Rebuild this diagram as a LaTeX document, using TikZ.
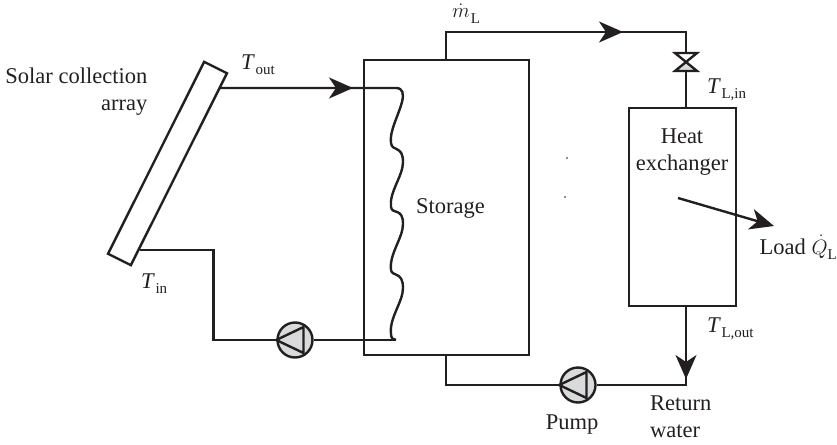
\documentclass[tikz,border=0pt]{standalone}
\usepackage{fontspec}
\setmainfont{Liberation Serif}
\usepackage{xcolor}
\usetikzlibrary{arrows.meta, positioning, calc}
\definecolor{inkcol}{HTML}{231F20}
\definecolor{pumpgray}{HTML}{D9DADB}
\tikzset{
  pipe/.style={line width=2.4pt, draw=inkcol},
  flowtip/.style={-{Stealth[length=24pt, width=21pt, inset=7pt]}},
  vessel/.style={draw=inkcol, line width=2.4pt, inner sep=0pt},
  pumpnode/.style={circle, draw=inkcol, fill=pumpgray, line width=2.4pt, minimum size=35pt, inner sep=0pt},
  lbl/.style={text=inkcol, font=\fontsize{22.5}{27}\selectfont, inner sep=0pt},
}
\newcommand{\subtxt}[1]{\raisebox{-5.5pt}{\fontsize{15}{15}\selectfont #1}}
\newcommand{\symT}[1]{\textit{T}\kern 0.5pt\subtxt{#1}}
\begin{document}
\begin{tikzpicture}[x=1pt, y=-1pt]
  \useasboundingbox (0,0) rectangle (837,444);
  %--- vessels ---
  \node[vessel, minimum width=165pt, minimum height=295pt] (storage) at (446.5,207.5) {};
  \node[vessel, minimum width=107pt, minimum height=198pt] (exchanger) at (682.5,207) {};
  \node[vessel, minimum width=214.7pt, minimum height=25.5pt, rotate=63.4] (array) at (167.5,163.5) {};
  %--- collector loop ---
  \coordinate (arrayout) at (220,88);
  \coordinate (coiltop) at (396,88);
  \coordinate (coilend) at (396,340);
  \coordinate (arrayin) at (140,250);
  \coordinate (cornerin) at (213.5,250);
  \node[pumpnode] (pumpa) at (295,340) {};
  \draw[pipe] (arrayout) -- (coiltop)
    .. controls (403,88) and (404,94) .. (402,102)
    .. controls (399,114) and (389,132) .. (391,143)
    .. controls (392,152) and (403,145) .. (403,162)
    .. controls (403,176) and (389,192) .. (391,207)
    .. controls (392,215) and (403,207) .. (403,224)
    .. controls (403,238) and (389,254) .. (391,270)
    .. controls (392,277) and (403,271) .. (403,288)
    .. controls (403,302) and (389,318) .. (391,334)
    .. controls (391,338) and (393,340) .. (coilend);
  \draw[pipe] (coilend) -- (pumpa.east);
  \draw[pipe] (pumpa.west) -- (pumpa.west -| cornerin) -- (cornerin) -- (arrayin);
  \draw[pipe, flowtip] (arrayout) -- (353,88);
  %--- load loop ---
  \coordinate (topleft) at (446,32);
  \coordinate (topright) at (686,32);
  \coordinate (botleft) at (446,385);
  \coordinate (botright) at (686,385);
  \node[minimum size=0pt, inner sep=0pt] (valve) at (686,62) {};
  \node[pumpnode] (pumpb) at (578,385) {};
  \draw[pipe] (topleft |- storage.north) -- (topleft) -- (topright) -- (valve);
  \draw[pipe, flowtip] (topleft) -- (623,32);
  \draw[pipe] (valve) -- (topright |- exchanger.north);
  \draw[pipe] (topright |- exchanger.south) -- (botright) -- (pumpb.east);
  \draw[pipe] (pumpb.west) -- (botleft) -- (botleft |- storage.south);
  \draw[pipe, flowtip] (topright |- exchanger.south) -- (686,379);
  % valve triangles
  \fill[white] (675,53) -- (697,53) -- (686,62) -- cycle;
  \fill[pumpgray] (675,71) -- (697,71) -- (686,62) -- cycle;
  \draw[pipe, line join=miter] (675,53) -- (697,53) -- (675,71) -- (697,71) -- cycle;
  % pump triangles
  \foreach \pumpname in {pumpa, pumpb} {
    \draw[pipe, line join=round] (\pumpname.west) -- ($(\pumpname)+(8.5,-13)$)
      -- ($(\pumpname)+(8.5,13)$) -- cycle;
  }
  %--- load arrow ---
  \coordinate (loadstart) at (678,198);
  \coordinate (loadtip) at (774,226);
  \draw[pipe, flowtip] (loadstart) -- (loadtip);
  %--- stray dots ---
  \fill[inkcol] (567,158) circle (0.9pt);
  \fill[inkcol] (565,197) circle (0.9pt);
  %--- labels ---
  \node[lbl, align=right, anchor=north east] (arraylabel) at (147.5,68) {Solar collection\\array};
  \node[lbl, anchor=base west] (tout) at (241,69) {\symT{out}};
  \node[lbl, anchor=base west] (tin) at (141,288) {\symT{in}};
  \node[lbl, anchor=base west] (storagelabel) at (416,213) {Storage};
  \node[lbl, anchor=base west] (massflow) at (452,18) {$\dot{m}$\kern 1pt\subtxt{L}};
  \node[lbl, anchor=base west] (tlin) at (707,93) {\symT{L,in}};
  \node[lbl, anchor=base west] (tlout) at (707,332) {\symT{L,out}};
  \node[lbl, align=center, anchor=north] (hxlabel) at (682,128.5) {Heat\\exchanger};
  \node[lbl, anchor=base east] (loadlabel) at (837,254) {Load $\dot{Q}$\subtxt{L}};
  \node[lbl, anchor=base] (pumplabel) at (572,429) {Pump};
  \node[lbl, align=left, anchor=north west] (returnlabel) at (650,396) {Return\\water};
\end{tikzpicture}
\end{document}
